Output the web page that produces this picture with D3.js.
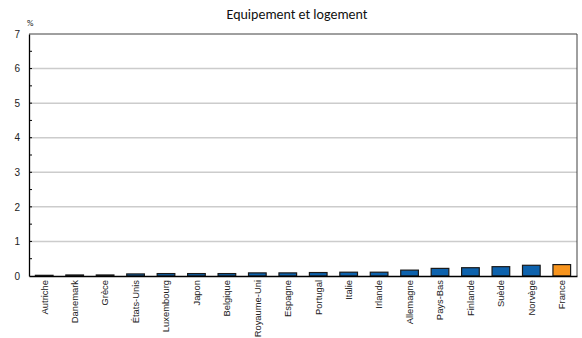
<!DOCTYPE html>
<html>
<head>
<meta charset="utf-8">
<script src="https://cdn.jsdelivr.net/npm/d3@7"></script>
<style>
  body { margin: 0; background: #fff; }
  svg { font-family: Calibri, Carlito, "Liberation Sans", Arial, sans-serif; }
</style>
</head>
<body>
<div id="chart"></div>
<script>
const countries = ["Autriche", "Danemark", "Grèce", "États-Unis", "Luxembourg", "Japon", "Belgique",
  "Royaume-Uni", "Espagne", "Portugal", "Italie", "Irlande", "Allemagne", "Pays-Bas",
  "Finlande", "Suède", "Norvège", "France"];
const values = [0.02, 0.03, 0.03, 0.06, 0.07, 0.07, 0.07, 0.09, 0.09, 0.1, 0.11, 0.11,
  0.17, 0.22, 0.24, 0.27, 0.31, 0.33];
const yTicks = [0, 1, 2, 3, 4, 5, 6, 7];

const width = 582, height = 338;
const margin = { top: 34, right: 5, bottom: 62, left: 29 };

const svg = d3.select("#chart").append("svg")
    .attr("width", width)
    .attr("height", height);

const x = d3.scaleBand()
    .domain(countries)
    .range([margin.left, width - margin.right])
    .paddingInner(0.42)
    .paddingOuter(0.21);

const y = d3.scaleLinear()
    .domain([0, 7])
    .range([height - margin.bottom, margin.top]);

// grid lines
svg.append("g")
    .selectAll("line")
    .data(yTicks.filter(d => d > 0 && d < 7))
    .enter().append("line")
    .attr("x1", margin.left)
    .attr("x2", width - margin.right)
    .attr("y1", d => y(d))
    .attr("y2", d => y(d))
    .style("stroke", "#cccccc")
    .style("stroke-width", 1.5);

// frame top & right
svg.append("path")
    .attr("d", `M${margin.left},${margin.top}H${width - margin.right}V${height - margin.bottom}`)
    .style("fill", "none")
    .style("stroke", "#404040")
    .style("stroke-width", 1);

// bars
svg.append("g")
    .selectAll("rect")
    .data(countries)
    .enter().append("rect")
    .attr("x", d => x(d))
    .attr("width", x.bandwidth())
    .attr("y", (d, i) => y(values[i]))
    .attr("height", (d, i) => y(0) - y(values[i]))
    .attr("fill", d => d === "France" ? "#f7941d" : "#0d62ad")
    .style("stroke", "#1a1a1a")
    .style("stroke-width", 1.2);

// y axis
const yAxis = svg.append("g")
    .attr("transform", `translate(${margin.left},0)`)
    .call(d3.axisLeft(y).tickValues(yTicks).tickSize(0).tickPadding(9).tickFormat(d3.format("d")));
yAxis.select(".domain").style("stroke", "#000").style("stroke-width", 1.3);
yAxis.selectAll("text").style("font-size", "10px").style("fill", "#222");

// minor and major ticks inside the axis
svg.append("g")
    .selectAll("line")
    .data(d3.range(0.5, 7, 0.5).filter(d => d > 0))
    .enter().append("line")
    .attr("x1", margin.left)
    .attr("x2", margin.left + 3)
    .attr("y1", d => y(d))
    .attr("y2", d => y(d))
    .style("stroke", "#000");

// x axis
const xAxis = svg.append("g")
    .attr("transform", `translate(0,${y(0)})`)
    .call(d3.axisBottom(x).tickSize(0).tickPadding(0));
xAxis.select(".domain").style("stroke", "#000").style("stroke-width", 1.5);
xAxis.selectAll("text")
    .attr("transform", "rotate(-90)")
    .attr("x", -4)
    .attr("y", 0)
    .attr("dy", "0.35em")
    .style("text-anchor", "end")
    .style("font-size", "9.4px")
    .style("fill", "#222");

// title
svg.append("text")
    .attr("x", 297)
    .attr("y", 19)
    .attr("text-anchor", "middle")
    .style("font-size", "14px")
    .style("fill", "#111")
    .text("Equipement et logement");

svg.append("text")
    .attr("x", 27)
    .attr("y", 26)
    .style("font-size", "9px")
    .style("fill", "#222")
    .text("%");
</script>
</body>
</html>
